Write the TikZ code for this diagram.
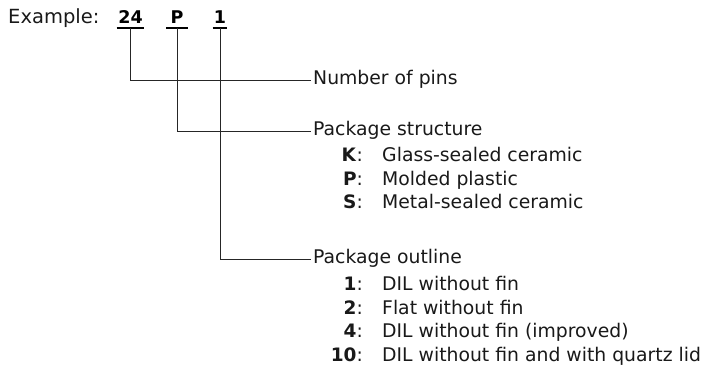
\documentclass[tikz,border=0pt]{standalone}
\usepackage{fontspec}
\setmainfont{DejaVu Sans}
\usetikzlibrary{calc}
\begin{document}
\begin{tikzpicture}[x=1pt,y=-1pt,
  lbl/.style={font=\fontsize{18.8}{22}\selectfont, inner sep=0pt, anchor=west, text height=13.5pt, text depth=4pt, text=black!90},
  keyc/.style={font=\fontsize{18.5}{22}\selectfont, inner sep=0pt, anchor=east, text height=13.5pt, text depth=4pt, text=black!90},
  code/.style={font=\fontsize{17.5}{20}\selectfont\bfseries, anchor=base, inner xsep=1.5pt, inner ysep=4pt, text=black},
  conn/.style={line width=0.9pt, draw=black!85},
  uline/.style={line width=1.8pt, draw=black}]
\useasboundingbox (0,0) rectangle (717,377);
% header
\node[font=\fontsize{19.5}{22}\selectfont, inner sep=0pt, anchor=base west, text=black!90] (ex) at (8,23.5) {Example:};
\node[code] (c24) at (130.5,24) {24};
\node[code, inner xsep=4pt] (cP) at (177,24) {P};
\node[code, inner xsep=1.2pt] (c1) at (220,24) {1};
\draw[uline] (c24.south west) -- (c24.south east);
\draw[uline] (cP.south west) -- (cP.south east);
\draw[uline] (c1.south west) -- (c1.south east);
% labels
\node[lbl] (num) at (313,80) {Number of pins};
\node[lbl] (ps) at (313,131) {Package structure};
\node[lbl] (po) at (313,259) {Package outline};
% structure options
\node[keyc] (kK) at (363,157) {\textbf{K}:};
\node[lbl] (dK) at (382,157) {Glass-sealed ceramic};
\node[keyc] (kP) at (363,180.5) {\textbf{P}:};
\node[lbl] (dP) at (382,180.5) {Molded plastic};
\node[keyc] (kS) at (363,204) {\textbf{S}:};
\node[lbl] (dS) at (382,204) {Metal-sealed ceramic};
% outline options
\node[keyc] (k1) at (363,286) {\textbf{1}:};
\node[lbl] (d1) at (382,286) {DIL without fin};
\node[keyc] (k2) at (363,309.5) {\textbf{2}:};
\node[lbl] (d2) at (382,309.5) {Flat without fin};
\node[keyc] (k4) at (363,333) {\textbf{4}:};
\node[lbl] (d4) at (382,333) {DIL without fin (improved)};
\node[keyc] (k10) at (363,357) {\textbf{10}:};
\node[lbl] (d10) at (382,357) {DIL without fin and with quartz lid};
% connectors
\draw[conn] (c24.south) |- ([xshift=-2pt]num.west);
\draw[conn] (cP.south) |- ([xshift=-2pt]ps.west);
\draw[conn] (c1.south) |- ([xshift=-2pt]po.west);
\end{tikzpicture}
\end{document}
